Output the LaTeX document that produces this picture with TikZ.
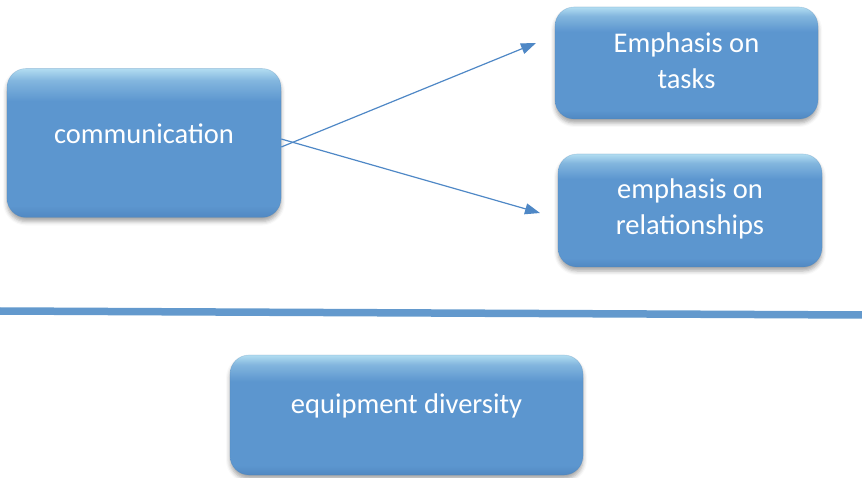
\documentclass[tikz,border=0pt]{standalone}
\usepackage{fontspec}
\setmainfont{Carlito}
\usetikzlibrary{arrows.meta,shadows.blur}

\definecolor{boxmid}{HTML}{5C96CF}
\definecolor{boxtop}{HTML}{B2DDF1}
\definecolor{boxlow}{HTML}{5088C2}
\definecolor{arrowblue}{HTML}{4F88C6}
\definecolor{rulecol}{HTML}{6399CD}

% glossy box: light band along the top edge, flat blue body
% (the visible part of an axis shading runs from 25bp to 75bp)
\pgfdeclareverticalshading{glossbox}{100bp}{%
  color(0bp)=(boxlow); color(25bp)=(boxlow); color(29bp)=(boxmid);
  color(64bp)=(boxmid); color(71bp)=(boxmid!55!boxtop);
  color(75bp)=(boxtop); color(100bp)=(boxtop)}

\tikzset{
  bluebox/.style={rectangle, rounded corners=19pt, shading=glossbox,
    draw=boxmid!85!black, draw opacity=0.25, line width=0.6pt,
    text=white, align=center, inner sep=0pt,
    font=\fontsize{28.5}{36}\selectfont,
    blur shadow={shadow xshift=0pt, shadow yshift=-4pt,
      shadow blur radius=4pt, shadow opacity=35}},
  linkarrow/.style={draw=arrowblue, line width=1.2pt,
    -{Triangle[length=15pt,width=11pt]}}
}
% lift a label a little above the box centre
\newcommand{\liftlabel}[2]{\raisebox{#1}[\height][\depth]{#2}}

\begin{document}
\begin{tikzpicture}[x=1pt,y=-1pt]
  \useasboundingbox (0,0) rectangle (862,478);

  \node[bluebox, minimum width=274pt, minimum height=149pt] (comm)
    at (144,143) {\liftlabel{9pt}{communication}};
  \node[bluebox, minimum width=263pt, minimum height=112pt] (tasks)
    at (686.5,63) {\liftlabel{2pt}{Emphasis on}\\\liftlabel{2pt}{tasks}};
  \node[bluebox, minimum width=264pt, minimum height=113pt] (rel)
    at (690,210.5) {\liftlabel{2pt}{emphasis on}\\\liftlabel{2pt}{relationships}};
  \node[bluebox, minimum width=353pt, minimum height=120pt] (equip)
    at (406.5,415) {\liftlabel{9pt}{equipment diversity}};

  \coordinate (tipA) at (536,43);
  \coordinate (tipB) at (540,213);
  \draw[linkarrow] ([yshift=-4pt]comm.east) -- (tipA);
  \draw[linkarrow] ([yshift=4pt]comm.east) -- (tipB);

  % horizontal divider
  \coordinate (ruleL) at (0,311);
  \coordinate (ruleR) at (862,315);
  \draw[rulecol, line width=7.5pt] (ruleL) -- (ruleR);
\end{tikzpicture}
\end{document}
